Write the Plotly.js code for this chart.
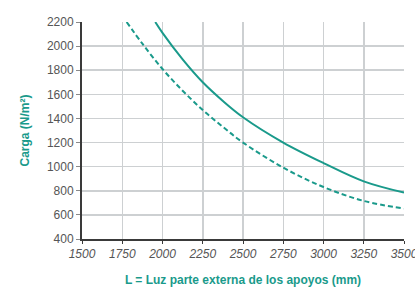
<!DOCTYPE html>
<html>
<head>
<meta charset="utf-8">
<script src="https://cdn.plot.ly/plotly-3.0.1.min.js"></script>
<style>html,body{margin:0;padding:0;background:#fff;}#chart{width:415px;height:288px;}</style>
</head>
<body>
<div id="chart"></div>
<script>
// Data
const solidL = [1955, 2000, 2125, 2250, 2375, 2500, 2750, 3000, 3250, 3500];
const solidP = [2200, 2110, 1890, 1700, 1545, 1410, 1200, 1030, 878, 785];
const dashL = [1777, 1875, 2000, 2125, 2250, 2375, 2500, 2750, 3000, 3250, 3500];
const dashP = [2200, 2020, 1810, 1630, 1470, 1330, 1200, 992, 831, 716, 652];

const xTicks = [1500, 1750, 2000, 2250, 2500, 2750, 3000, 3250, 3500];
const yTicks = [400, 600, 800, 1000, 1200, 1400, 1600, 1800, 2000, 2200];
const xDarkGrid = [2250, 3000];
const yDarkGrid = [1000, 1400, 1800, 2200];

const teal = '#1a9a8b';
const traces = [
  {x: solidL, y: solidP, mode: 'lines', line: {color: teal, width: 2, shape: 'spline', smoothing: 1}, hoverinfo: 'skip', showlegend: false},
  {x: dashL, y: dashP, mode: 'lines', line: {color: teal, width: 2, dash: '5px,3px', shape: 'spline', smoothing: 1}, hoverinfo: 'skip', showlegend: false}
];

const layout = {
  width: 415, height: 288,
  margin: {l: 82, r: 11, t: 22, b: 49},
  paper_bgcolor: '#fff', plot_bgcolor: '#fff',
  showlegend: false,
  xaxis: {
    range: [1500, 3500], tickmode: 'array', tickvals: xTicks, ticktext: xTicks.map(String),
    showgrid: true, gridcolor: '#cdd0d2', gridwidth: 1.5,
    showline: true, linecolor: '#3a3a3a', linewidth: 2,
    ticks: 'outside', ticklen: 3, tickcolor: '#3a3a3a', tickwidth: 1,
    ticklabeloverflow: 'allow',
    tickfont: {family: 'Liberation Sans, Arial', size: 12, color: '#555', style: 'italic'},
    zeroline: false, mirror: false,
    title: {text: 'L = Luz parte externa de los apoyos (mm)', standoff: 15,
      font: {family: 'Liberation Sans, Arial', size: 12, color: teal, weight: 'bold'}}
  },
  yaxis: {
    range: [400, 2200], tickmode: 'array', tickvals: yTicks, ticktext: yTicks.map(String),
    showgrid: true, gridcolor: '#cdd0d2', gridwidth: 1.5,
    showline: true, linecolor: '#3a3a3a', linewidth: 2,
    ticks: 'outside', ticklen: 4, tickcolor: '#8a8a8a', tickwidth: 1,
    tickfont: {family: 'Liberation Sans, Arial', size: 12, color: '#555'},
    zeroline: false,
    title: {text: 'Carga (N/m²)', standoff: 15,
      font: {family: 'Liberation Sans, Arial', size: 12, color: teal, weight: 'bold'}}
  },
  xaxis2: {
    overlaying: 'x', anchor: 'y2', range: [1500, 3500], tickmode: 'array', tickvals: xDarkGrid,
    showticklabels: false, ticks: '', showgrid: true, gridcolor: '#a9acae', gridwidth: 1.5,
    showline: false, zeroline: false
  },
  yaxis2: {
    overlaying: 'y', anchor: 'x2', range: [400, 2200], tickmode: 'array', tickvals: yDarkGrid,
    showticklabels: false, ticks: '', showgrid: true, gridcolor: '#a9acae', gridwidth: 1.5,
    showline: false, zeroline: false
  }
};

Plotly.newPlot('chart', traces, layout, {displayModeBar: false, staticPlot: true});
</script>
</body>
</html>
